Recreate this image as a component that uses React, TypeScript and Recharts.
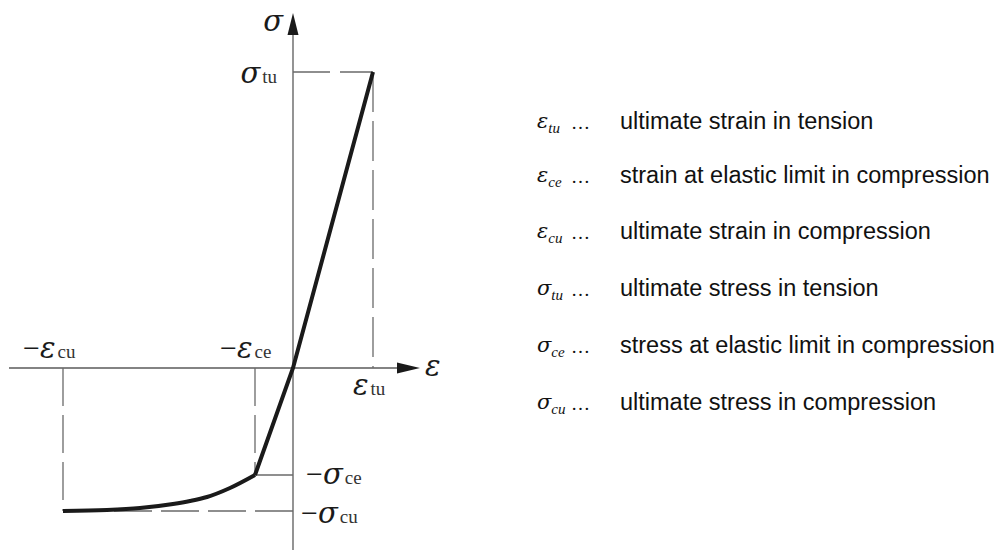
import {
  ComposedChart,
  Line,
  XAxis,
  YAxis,
  ReferenceLine,
  ReferenceDot,
} from "recharts";

const INK = "#1a1a1a";
const AXIS = "#5a5a5a";
const DASH = "#6a6a6a";
const GREEK_FONT = "'DejaVu Serif', 'Liberation Serif', serif";
const ROMAN_FONT = "'Liberation Serif', 'Times New Roman', serif";

// characteristic values (strain ε, stress σ), schematic units
const EPS_TU = 0.8;
const EPS_CE = 0.38;
const EPS_CU = 2.3;
const SIG_TU = 2.96;
const SIG_CE = 1.07;
const SIG_CU = 1.43;

// plot window, both axes drawn with arrows at the far ends
const X_DOMAIN = [-2.84, 1.27];
const Y_DOMAIN = [-1.82, 3.55];

// linear branch: elastic limit in compression -> origin -> tension tip
const elasticStrain = [-EPS_CE, 0, EPS_TU];
const elasticStress = [-SIG_CE, 0, SIG_TU];

// hardening branch from the ultimate point up to the elastic limit
const plasticStrain = [-2.3, -1.86, -1.53, -1.2, -1.03, -0.86, -0.63, -0.38];
const plasticStress = [-1.43, -1.42, -1.4, -1.36, -1.33, -1.29, -1.2, -1.07];

const legendSymbols = ["ε", "ε", "ε", "σ", "σ", "σ"];
const legendSubs = ["tu", "ce", "cu", "tu", "ce", "cu"];
const legendTexts = [
  "ultimate strain in tension",
  "strain at elastic limit in compression",
  "ultimate strain in compression",
  "ultimate stress in tension",
  "stress at elastic limit in compression",
  "ultimate stress in compression",
];
const legendRowY = [121, 175, 231, 288, 345, 402];

const elasticData = elasticStrain.map((e, i) => ({ strain: e, stress: elasticStress[i] }));
const plasticData = plasticStrain.map((e, i) => ({ strain: e, stress: plasticStress[i] }));

const arrowRight = (p: any) => (
  <polygon
    points={`${p.cx},${p.cy} ${p.cx - 23},${p.cy - 5.5} ${p.cx - 23},${p.cy + 5.5}`}
    fill={INK}
  />
);

const arrowUp = (p: any) => (
  <polygon
    points={`${p.cx},${p.cy} ${p.cx - 5.5},${p.cy + 22} ${p.cx + 5.5},${p.cy + 22}`}
    fill={INK}
  />
);

// symbol with optional minus sign and upright subscript, placed relative to a data point
function mathLabel(
  sym: string,
  sub: string,
  dx: number,
  dy: number,
  minus = false,
  anchor: "start" | "end" = "start"
) {
  return (p: any) => (
    <text x={p.cx + dx} y={p.cy + dy} textAnchor={anchor} fill={INK}>
      {minus && (
        <tspan fontFamily={ROMAN_FONT} fontSize={30}>
          −
        </tspan>
      )}
      <tspan fontFamily={GREEK_FONT} fontSize={29} fontStyle="italic">
        {sym}
      </tspan>
      {sub && (
        <tspan fontFamily={ROMAN_FONT} fontSize={19} dx={2} fill="#333">
          {sub}
        </tspan>
      )}
    </text>
  );
}

function Legend() {
  return (
    <>
      {legendTexts.map((t, i) => (
        <div
          key={t}
          style={{
            position: "absolute",
            left: 0,
            top: legendRowY[i] - 15,
            height: 30,
            width: 1005,
            lineHeight: "30px",
            color: "#111",
            whiteSpace: "nowrap",
          }}
        >
          <span
            style={{
              position: "absolute",
              left: 537,
              fontFamily: GREEK_FONT,
              fontStyle: "italic",
              fontSize: 21,
            }}
          >
            {legendSymbols[i]}
            <span
              style={{
                fontFamily: ROMAN_FONT,
                fontStyle: "italic",
                fontSize: 15,
                position: "relative",
                top: 5,
              }}
            >
              {legendSubs[i]}
            </span>
          </span>
          <span
            style={{
              position: "absolute",
              left: 571,
              fontFamily: ROMAN_FONT,
              fontSize: 19,
              top: 2,
            }}
          >
            …
          </span>
          <span
            style={{
              position: "absolute",
              left: 620,
              fontFamily: "'Liberation Sans', Arial, sans-serif",
              fontSize: 23.5,
            }}
          >
            {t}
          </span>
        </div>
      ))}
    </>
  );
}

export default function App() {
  return (
    <div
      style={{
        position: "absolute",
        left: 0,
        top: 0,
        width: 1005,
        height: 551,
        background: "#fff",
        overflow: "hidden",
      }}
    >
      <ComposedChart
        width={1005}
        height={551}
        margin={{ top: 13, right: 585, bottom: 1, left: 9 }}
      >
        <XAxis
          type="number"
          dataKey="strain"
          domain={X_DOMAIN}
          allowDataOverflow
          hide
        />
        <YAxis type="number" domain={Y_DOMAIN} allowDataOverflow hide />

        {/* coordinate axes */}
        <ReferenceLine
          segment={[
            { x: X_DOMAIN[0], y: 0 },
            { x: X_DOMAIN[1] - 0.2, y: 0 },
          ]}
          stroke={AXIS}
          strokeWidth={1.3}
          ifOverflow="visible"
        />
        <ReferenceLine
          segment={[
            { x: 0, y: Y_DOMAIN[0] },
            { x: 0, y: Y_DOMAIN[1] - 0.2 },
          ]}
          stroke={AXIS}
          strokeWidth={1.3}
          ifOverflow="visible"
        />

        {/* guide lines to the characteristic points */}
        <ReferenceLine
          segment={[
            { x: 0, y: SIG_TU },
            { x: EPS_TU, y: SIG_TU },
          ]}
          stroke={DASH}
          strokeWidth={1.3}
          strokeDasharray="37 10"
        />
        <ReferenceLine
          segment={[
            { x: EPS_TU, y: SIG_TU },
            { x: EPS_TU, y: 0 },
          ]}
          stroke={DASH}
          strokeWidth={1.3}
          strokeDasharray="40 9"
        />
        <ReferenceLine
          segment={[
            { x: -EPS_CE, y: 0 },
            { x: -EPS_CE, y: -SIG_CE },
          ]}
          stroke={DASH}
          strokeWidth={1.3}
          strokeDasharray="38 9"
        />
        <ReferenceLine
          segment={[
            { x: -EPS_CE, y: -SIG_CE },
            { x: 0, y: -SIG_CE },
          ]}
          stroke={DASH}
          strokeWidth={1.3}
        />
        <ReferenceLine
          segment={[
            { x: -EPS_CU, y: 0 },
            { x: -EPS_CU, y: -SIG_CU },
          ]}
          stroke={DASH}
          strokeWidth={1.3}
          strokeDasharray="38 9"
        />
        <ReferenceLine
          segment={[
            { x: 0, y: -SIG_CU },
            { x: -EPS_CU, y: -SIG_CU },
          ]}
          stroke={DASH}
          strokeWidth={1.3}
          strokeDasharray="38 9"
        />

        <Line
          data={plasticData}
          dataKey="stress"
          type="monotone"
          stroke={INK}
          strokeWidth={4}
          dot={false}
          activeDot={false}
          isAnimationActive={false}
        />
        <Line
          data={elasticData}
          dataKey="stress"
          type="linear"
          stroke={INK}
          strokeWidth={4}
          dot={false}
          activeDot={false}
          isAnimationActive={false}
        />

        {/* arrow heads */}
        <ReferenceDot x={X_DOMAIN[1]} y={0} shape={arrowRight} ifOverflow="visible" />
        <ReferenceDot x={0} y={Y_DOMAIN[1]} shape={arrowUp} ifOverflow="visible" />

        {/* axis and point labels */}
        <ReferenceDot x={0} y={Y_DOMAIN[1]} shape={mathLabel("σ", "", -10, 18, false, "end")} ifOverflow="visible" />
        <ReferenceDot x={X_DOMAIN[1]} y={0} shape={mathLabel("ε", "", 5, 8)} ifOverflow="visible" />
        <ReferenceDot x={0} y={SIG_TU} shape={mathLabel("σ", "tu", -16, 11, false, "end")} ifOverflow="visible" />
        <ReferenceDot x={EPS_TU} y={0} shape={mathLabel("ε", "tu", -20, 27)} ifOverflow="visible" />
        <ReferenceDot x={-EPS_CU} y={0} shape={mathLabel("ε", "cu", -40, -10, true)} ifOverflow="visible" />
        <ReferenceDot x={-EPS_CE} y={0} shape={mathLabel("ε", "ce", -35, -10, true)} ifOverflow="visible" />
        <ReferenceDot x={0} y={-SIG_CE} shape={mathLabel("σ", "ce", 13, 9, true)} ifOverflow="visible" />
        <ReferenceDot x={0} y={-SIG_CU} shape={mathLabel("σ", "cu", 8, 12, true)} ifOverflow="visible" />
      </ComposedChart>
      <Legend />
    </div>
  );
}
